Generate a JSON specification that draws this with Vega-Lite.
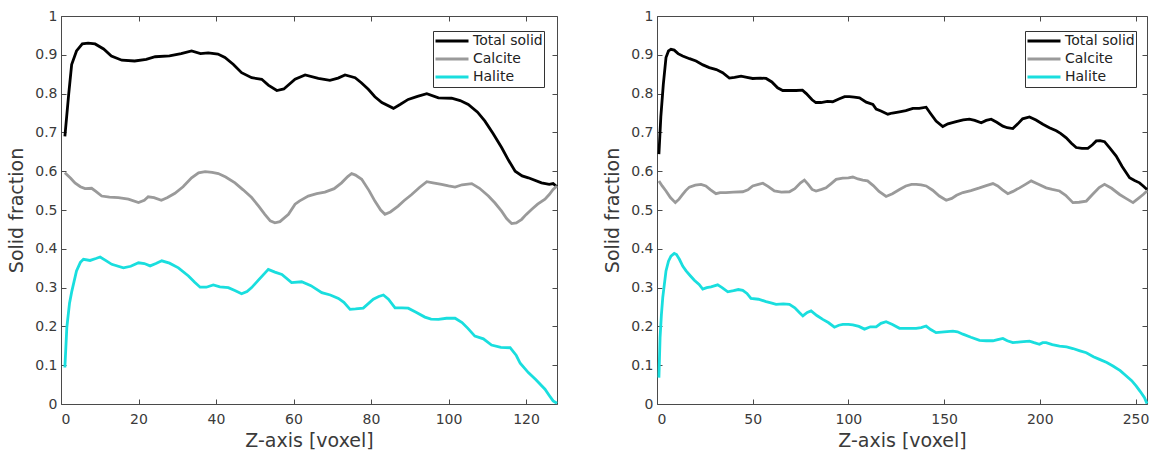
{
  "$schema": "https://vega.github.io/schema/vega-lite/v6.json",
  "padding": {"left": 7, "top": 9, "right": 5, "bottom": 0},
  "config": {
    "font": "DejaVu Sans",
    "view": {"stroke": null},
    "axis": {
      "grid": false,
      "domainColor": "#4a4a4a",
      "domainWidth": 1,
      "tickColor": "#4a4a4a",
      "tickSize": -5,
      "labelFont": "DejaVu Sans",
      "labelFontSize": 14,
      "labelColor": "#3a3a3a",
      "titleFont": "DejaVu Sans",
      "titleFontSize": 19,
      "titleFontWeight": "normal",
      "titleColor": "#3a3a3a"
    },
    "legend": {
      "orient": "none",
      "title": null,
      "symbolType": "stroke",
      "symbolSize": 1089,
      "symbolStrokeWidth": 2.8,
      "clipHeight": 18,
      "rowPadding": 0,
      "labelOffset": 3,
      "labelFont": "DejaVu Sans",
      "labelFontSize": 14,
      "labelColor": "#222222",
      "strokeColor": "#333333",
      "fillColor": "white",
      "padding": 1
    }
  },
  "datasets": {
    "left": [
      {"z":1,"v":0.69,"s":"Total solid"},{"z":2,"v":0.80,"s":"Total solid"},{"z":2.75,"v":0.875,"s":"Total solid"},{"z":4,"v":0.91,"s":"Total solid"},{"z":5.5,"v":0.928,"s":"Total solid"},{"z":7,"v":0.93,"s":"Total solid"},{"z":8.8,"v":0.928,"s":"Total solid"},{"z":11,"v":0.915,"s":"Total solid"},{"z":13,"v":0.897,"s":"Total solid"},{"z":15.7,"v":0.886,"s":"Total solid"},{"z":19,"v":0.884,"s":"Total solid"},{"z":22,"v":0.888,"s":"Total solid"},{"z":24.3,"v":0.895,"s":"Total solid"},{"z":28,"v":0.897,"s":"Total solid"},{"z":31,"v":0.903,"s":"Total solid"},{"z":33.7,"v":0.91,"s":"Total solid"},{"z":36,"v":0.903,"s":"Total solid"},{"z":38,"v":0.905,"s":"Total solid"},{"z":40.5,"v":0.902,"s":"Total solid"},{"z":42.3,"v":0.893,"s":"Total solid"},{"z":44.5,"v":0.875,"s":"Total solid"},{"z":46.6,"v":0.854,"s":"Total solid"},{"z":49.2,"v":0.841,"s":"Total solid"},{"z":51.8,"v":0.837,"s":"Total solid"},{"z":53.5,"v":0.822,"s":"Total solid"},{"z":55.7,"v":0.808,"s":"Total solid"},{"z":57.5,"v":0.812,"s":"Total solid"},{"z":60.4,"v":0.837,"s":"Total solid"},{"z":63,"v":0.848,"s":"Total solid"},{"z":66.4,"v":0.839,"s":"Total solid"},{"z":69.4,"v":0.834,"s":"Total solid"},{"z":71.5,"v":0.84,"s":"Total solid"},{"z":73.3,"v":0.848,"s":"Total solid"},{"z":75.9,"v":0.841,"s":"Total solid"},{"z":77.5,"v":0.828,"s":"Total solid"},{"z":79.3,"v":0.811,"s":"Total solid"},{"z":81,"v":0.792,"s":"Total solid"},{"z":82.8,"v":0.777,"s":"Total solid"},{"z":85.8,"v":0.762,"s":"Total solid"},{"z":87.5,"v":0.772,"s":"Total solid"},{"z":89.6,"v":0.785,"s":"Total solid"},{"z":92,"v":0.793,"s":"Total solid"},{"z":94.4,"v":0.8,"s":"Total solid"},{"z":97.4,"v":0.789,"s":"Total solid"},{"z":100.8,"v":0.788,"s":"Total solid"},{"z":103,"v":0.782,"s":"Total solid"},{"z":105.1,"v":0.772,"s":"Total solid"},{"z":107.5,"v":0.752,"s":"Total solid"},{"z":109.4,"v":0.729,"s":"Total solid"},{"z":111.5,"v":0.697,"s":"Total solid"},{"z":113.7,"v":0.661,"s":"Total solid"},{"z":115.5,"v":0.628,"s":"Total solid"},{"z":117.2,"v":0.6,"s":"Total solid"},{"z":119,"v":0.588,"s":"Total solid"},{"z":120.6,"v":0.583,"s":"Total solid"},{"z":124,"v":0.57,"s":"Total solid"},{"z":126,"v":0.566,"s":"Total solid"},{"z":127,"v":0.568,"s":"Total solid"},{"z":128,"v":0.56,"s":"Total solid"},
      {"z":1,"v":0.596,"s":"Calcite"},{"z":2.5,"v":0.582,"s":"Calcite"},{"z":3.6,"v":0.57,"s":"Calcite"},{"z":5,"v":0.56,"s":"Calcite"},{"z":6.2,"v":0.555,"s":"Calcite"},{"z":7.9,"v":0.556,"s":"Calcite"},{"z":9,"v":0.548,"s":"Calcite"},{"z":10.5,"v":0.536,"s":"Calcite"},{"z":12.5,"v":0.533,"s":"Calcite"},{"z":14.8,"v":0.532,"s":"Calcite"},{"z":17.4,"v":0.528,"s":"Calcite"},{"z":20,"v":0.519,"s":"Calcite"},{"z":21.5,"v":0.525,"s":"Calcite"},{"z":22.5,"v":0.534,"s":"Calcite"},{"z":24,"v":0.532,"s":"Calcite"},{"z":25.9,"v":0.525,"s":"Calcite"},{"z":27.5,"v":0.532,"s":"Calcite"},{"z":29.4,"v":0.543,"s":"Calcite"},{"z":31.5,"v":0.56,"s":"Calcite"},{"z":33.7,"v":0.583,"s":"Calcite"},{"z":35.5,"v":0.596,"s":"Calcite"},{"z":37.2,"v":0.599,"s":"Calcite"},{"z":39,"v":0.597,"s":"Calcite"},{"z":40.6,"v":0.594,"s":"Calcite"},{"z":42.5,"v":0.585,"s":"Calcite"},{"z":44.9,"v":0.57,"s":"Calcite"},{"z":47,"v":0.552,"s":"Calcite"},{"z":49.2,"v":0.532,"s":"Calcite"},{"z":51,"v":0.51,"s":"Calcite"},{"z":52.6,"v":0.489,"s":"Calcite"},{"z":54,"v":0.472,"s":"Calcite"},{"z":55.2,"v":0.467,"s":"Calcite"},{"z":56.5,"v":0.47,"s":"Calcite"},{"z":58.7,"v":0.489,"s":"Calcite"},{"z":60.4,"v":0.515,"s":"Calcite"},{"z":61.5,"v":0.523,"s":"Calcite"},{"z":63.8,"v":0.536,"s":"Calcite"},{"z":66,"v":0.542,"s":"Calcite"},{"z":68.1,"v":0.546,"s":"Calcite"},{"z":70.5,"v":0.555,"s":"Calcite"},{"z":72.4,"v":0.57,"s":"Calcite"},{"z":74,"v":0.586,"s":"Calcite"},{"z":75,"v":0.594,"s":"Calcite"},{"z":76,"v":0.59,"s":"Calcite"},{"z":77.6,"v":0.579,"s":"Calcite"},{"z":79.5,"v":0.55,"s":"Calcite"},{"z":81,"v":0.523,"s":"Calcite"},{"z":82.5,"v":0.5,"s":"Calcite"},{"z":83.6,"v":0.489,"s":"Calcite"},{"z":85,"v":0.495,"s":"Calcite"},{"z":87,"v":0.51,"s":"Calcite"},{"z":88.5,"v":0.524,"s":"Calcite"},{"z":90.5,"v":0.54,"s":"Calcite"},{"z":92.5,"v":0.558,"s":"Calcite"},{"z":94.4,"v":0.573,"s":"Calcite"},{"z":96,"v":0.57,"s":"Calcite"},{"z":98.2,"v":0.566,"s":"Calcite"},{"z":100,"v":0.562,"s":"Calcite"},{"z":101.7,"v":0.559,"s":"Calcite"},{"z":103.5,"v":0.565,"s":"Calcite"},{"z":106,"v":0.568,"s":"Calcite"},{"z":108,"v":0.556,"s":"Calcite"},{"z":110.3,"v":0.536,"s":"Calcite"},{"z":112,"v":0.518,"s":"Calcite"},{"z":113.7,"v":0.497,"s":"Calcite"},{"z":115,"v":0.478,"s":"Calcite"},{"z":116.3,"v":0.465,"s":"Calcite"},{"z":117.5,"v":0.467,"s":"Calcite"},{"z":118.9,"v":0.476,"s":"Calcite"},{"z":120,"v":0.488,"s":"Calcite"},{"z":121.5,"v":0.502,"s":"Calcite"},{"z":123,"v":0.515,"s":"Calcite"},{"z":124.9,"v":0.528,"s":"Calcite"},{"z":126,"v":0.54,"s":"Calcite"},{"z":127,"v":0.553,"s":"Calcite"},{"z":128,"v":0.562,"s":"Calcite"},
      {"z":1,"v":0.094,"s":"Halite"},{"z":1.5,"v":0.197,"s":"Halite"},{"z":2.2,"v":0.26,"s":"Halite"},{"z":2.8,"v":0.291,"s":"Halite"},{"z":4,"v":0.343,"s":"Halite"},{"z":5,"v":0.365,"s":"Halite"},{"z":5.8,"v":0.373,"s":"Halite"},{"z":7.5,"v":0.37,"s":"Halite"},{"z":9,"v":0.375,"s":"Halite"},{"z":10.1,"v":0.379,"s":"Halite"},{"z":11.5,"v":0.37,"s":"Halite"},{"z":13.1,"v":0.36,"s":"Halite"},{"z":16.1,"v":0.351,"s":"Halite"},{"z":18,"v":0.355,"s":"Halite"},{"z":20,"v":0.364,"s":"Halite"},{"z":21.5,"v":0.362,"s":"Halite"},{"z":23,"v":0.356,"s":"Halite"},{"z":24.5,"v":0.362,"s":"Halite"},{"z":26,"v":0.369,"s":"Halite"},{"z":28,"v":0.363,"s":"Halite"},{"z":30.3,"v":0.351,"s":"Halite"},{"z":32.9,"v":0.33,"s":"Halite"},{"z":34.5,"v":0.314,"s":"Halite"},{"z":35.9,"v":0.301,"s":"Halite"},{"z":37.5,"v":0.301,"s":"Halite"},{"z":39.3,"v":0.307,"s":"Halite"},{"z":41,"v":0.302,"s":"Halite"},{"z":43.2,"v":0.3,"s":"Halite"},{"z":45,"v":0.292,"s":"Halite"},{"z":46.6,"v":0.284,"s":"Halite"},{"z":48,"v":0.29,"s":"Halite"},{"z":49.2,"v":0.3,"s":"Halite"},{"z":51,"v":0.32,"s":"Halite"},{"z":53.5,"v":0.347,"s":"Halite"},{"z":55.2,"v":0.34,"s":"Halite"},{"z":57,"v":0.334,"s":"Halite"},{"z":59.5,"v":0.313,"s":"Halite"},{"z":62.1,"v":0.315,"s":"Halite"},{"z":64.5,"v":0.305,"s":"Halite"},{"z":67.3,"v":0.287,"s":"Halite"},{"z":69.5,"v":0.281,"s":"Halite"},{"z":71.6,"v":0.272,"s":"Halite"},{"z":73,"v":0.262,"s":"Halite"},{"z":74.6,"v":0.244,"s":"Halite"},{"z":76,"v":0.245,"s":"Halite"},{"z":78,"v":0.247,"s":"Halite"},{"z":80.6,"v":0.27,"s":"Halite"},{"z":82,"v":0.277,"s":"Halite"},{"z":83.2,"v":0.281,"s":"Halite"},{"z":84.5,"v":0.27,"s":"Halite"},{"z":86.2,"v":0.248,"s":"Halite"},{"z":88,"v":0.248,"s":"Halite"},{"z":89.6,"v":0.247,"s":"Halite"},{"z":91.5,"v":0.237,"s":"Halite"},{"z":93.9,"v":0.224,"s":"Halite"},{"z":95.5,"v":0.219,"s":"Halite"},{"z":97.4,"v":0.218,"s":"Halite"},{"z":99.5,"v":0.221,"s":"Halite"},{"z":101.7,"v":0.221,"s":"Halite"},{"z":103.5,"v":0.21,"s":"Halite"},{"z":105,"v":0.195,"s":"Halite"},{"z":106.8,"v":0.175,"s":"Halite"},{"z":109,"v":0.168,"s":"Halite"},{"z":111.1,"v":0.152,"s":"Halite"},{"z":113.5,"v":0.146,"s":"Halite"},{"z":115.9,"v":0.145,"s":"Halite"},{"z":117.5,"v":0.125,"s":"Halite"},{"z":118.5,"v":0.105,"s":"Halite"},{"z":120.6,"v":0.081,"s":"Halite"},{"z":122.5,"v":0.063,"s":"Halite"},{"z":124.9,"v":0.038,"s":"Halite"},{"z":126,"v":0.022,"s":"Halite"},{"z":127,"v":0.008,"s":"Halite"},{"z":128,"v":0.002,"s":"Halite"}
    ],
    "right": [
      {"z":1,"v":0.644,"s":"Total solid"},{"z":2,"v":0.74,"s":"Total solid"},{"z":3.3,"v":0.824,"s":"Total solid"},{"z":4.7,"v":0.893,"s":"Total solid"},{"z":6,"v":0.91,"s":"Total solid"},{"z":7.3,"v":0.914,"s":"Total solid"},{"z":9,"v":0.912,"s":"Total solid"},{"z":11,"v":0.903,"s":"Total solid"},{"z":13.4,"v":0.897,"s":"Total solid"},{"z":17,"v":0.89,"s":"Total solid"},{"z":20.4,"v":0.884,"s":"Total solid"},{"z":24,"v":0.874,"s":"Total solid"},{"z":27.3,"v":0.867,"s":"Total solid"},{"z":31,"v":0.862,"s":"Total solid"},{"z":34.3,"v":0.854,"s":"Total solid"},{"z":37.8,"v":0.84,"s":"Total solid"},{"z":40.5,"v":0.842,"s":"Total solid"},{"z":43.9,"v":0.845,"s":"Total solid"},{"z":47,"v":0.842,"s":"Total solid"},{"z":50,"v":0.839,"s":"Total solid"},{"z":54,"v":0.84,"s":"Total solid"},{"z":57,"v":0.839,"s":"Total solid"},{"z":60,"v":0.83,"s":"Total solid"},{"z":63,"v":0.815,"s":"Total solid"},{"z":65.7,"v":0.808,"s":"Total solid"},{"z":69,"v":0.808,"s":"Total solid"},{"z":72.7,"v":0.808,"s":"Total solid"},{"z":76,"v":0.809,"s":"Total solid"},{"z":78,"v":0.8,"s":"Total solid"},{"z":81,"v":0.784,"s":"Total solid"},{"z":83,"v":0.777,"s":"Total solid"},{"z":85.7,"v":0.777,"s":"Total solid"},{"z":89,"v":0.78,"s":"Total solid"},{"z":91.8,"v":0.779,"s":"Total solid"},{"z":95,"v":0.786,"s":"Total solid"},{"z":98,"v":0.792,"s":"Total solid"},{"z":100.5,"v":0.792,"s":"Total solid"},{"z":103,"v":0.791,"s":"Total solid"},{"z":105.8,"v":0.789,"s":"Total solid"},{"z":109.3,"v":0.778,"s":"Total solid"},{"z":112.8,"v":0.772,"s":"Total solid"},{"z":114.5,"v":0.76,"s":"Total solid"},{"z":117,"v":0.755,"s":"Total solid"},{"z":120.6,"v":0.747,"s":"Total solid"},{"z":123,"v":0.75,"s":"Total solid"},{"z":126.7,"v":0.753,"s":"Total solid"},{"z":130,"v":0.756,"s":"Total solid"},{"z":133.7,"v":0.762,"s":"Total solid"},{"z":137,"v":0.762,"s":"Total solid"},{"z":140.6,"v":0.765,"s":"Total solid"},{"z":143,"v":0.748,"s":"Total solid"},{"z":145.8,"v":0.729,"s":"Total solid"},{"z":149.3,"v":0.715,"s":"Total solid"},{"z":152,"v":0.722,"s":"Total solid"},{"z":156.3,"v":0.728,"s":"Total solid"},{"z":160,"v":0.732,"s":"Total solid"},{"z":163.2,"v":0.734,"s":"Total solid"},{"z":166,"v":0.731,"s":"Total solid"},{"z":169.4,"v":0.725,"s":"Total solid"},{"z":172,"v":0.731,"s":"Total solid"},{"z":174.6,"v":0.734,"s":"Total solid"},{"z":177.5,"v":0.726,"s":"Total solid"},{"z":180.7,"v":0.716,"s":"Total solid"},{"z":183,"v":0.712,"s":"Total solid"},{"z":185.9,"v":0.71,"s":"Total solid"},{"z":188.5,"v":0.722,"s":"Total solid"},{"z":191,"v":0.735,"s":"Total solid"},{"z":194.6,"v":0.74,"s":"Total solid"},{"z":198,"v":0.732,"s":"Total solid"},{"z":201.6,"v":0.721,"s":"Total solid"},{"z":205,"v":0.712,"s":"Total solid"},{"z":208.6,"v":0.704,"s":"Total solid"},{"z":211,"v":0.697,"s":"Total solid"},{"z":213.8,"v":0.686,"s":"Total solid"},{"z":216.5,"v":0.672,"s":"Total solid"},{"z":219,"v":0.661,"s":"Total solid"},{"z":222,"v":0.659,"s":"Total solid"},{"z":225.1,"v":0.659,"s":"Total solid"},{"z":227.5,"v":0.668,"s":"Total solid"},{"z":229.5,"v":0.678,"s":"Total solid"},{"z":231.5,"v":0.679,"s":"Total solid"},{"z":233.8,"v":0.676,"s":"Total solid"},{"z":236.5,"v":0.66,"s":"Total solid"},{"z":239.9,"v":0.639,"s":"Total solid"},{"z":243,"v":0.612,"s":"Total solid"},{"z":246.9,"v":0.583,"s":"Total solid"},{"z":249.5,"v":0.576,"s":"Total solid"},{"z":252.1,"v":0.57,"s":"Total solid"},{"z":254,"v":0.562,"s":"Total solid"},{"z":256,"v":0.553,"s":"Total solid"},
      {"z":1,"v":0.575,"s":"Calcite"},{"z":2.7,"v":0.562,"s":"Calcite"},{"z":4.7,"v":0.549,"s":"Calcite"},{"z":7,"v":0.532,"s":"Calcite"},{"z":9.6,"v":0.519,"s":"Calcite"},{"z":11.5,"v":0.528,"s":"Calcite"},{"z":13.4,"v":0.54,"s":"Calcite"},{"z":15,"v":0.55,"s":"Calcite"},{"z":16.9,"v":0.559,"s":"Calcite"},{"z":20,"v":0.564,"s":"Calcite"},{"z":23,"v":0.566,"s":"Calcite"},{"z":25.5,"v":0.562,"s":"Calcite"},{"z":28,"v":0.552,"s":"Calcite"},{"z":30.8,"v":0.542,"s":"Calcite"},{"z":33,"v":0.545,"s":"Calcite"},{"z":36,"v":0.545,"s":"Calcite"},{"z":40,"v":0.546,"s":"Calcite"},{"z":44.8,"v":0.547,"s":"Calcite"},{"z":47.5,"v":0.552,"s":"Calcite"},{"z":50,"v":0.562,"s":"Calcite"},{"z":53,"v":0.566,"s":"Calcite"},{"z":55.3,"v":0.569,"s":"Calcite"},{"z":58,"v":0.561,"s":"Calcite"},{"z":61.3,"v":0.549,"s":"Calcite"},{"z":65,"v":0.546,"s":"Calcite"},{"z":69.2,"v":0.547,"s":"Calcite"},{"z":72,"v":0.555,"s":"Calcite"},{"z":75,"v":0.57,"s":"Calcite"},{"z":77,"v":0.577,"s":"Calcite"},{"z":79,"v":0.566,"s":"Calcite"},{"z":81,"v":0.553,"s":"Calcite"},{"z":83.1,"v":0.549,"s":"Calcite"},{"z":86,"v":0.553,"s":"Calcite"},{"z":88.3,"v":0.557,"s":"Calcite"},{"z":91,"v":0.568,"s":"Calcite"},{"z":93.6,"v":0.579,"s":"Calcite"},{"z":97,"v":0.582,"s":"Calcite"},{"z":100,"v":0.583,"s":"Calcite"},{"z":102.3,"v":0.585,"s":"Calcite"},{"z":105,"v":0.58,"s":"Calcite"},{"z":107.5,"v":0.577,"s":"Calcite"},{"z":110,"v":0.575,"s":"Calcite"},{"z":113,"v":0.563,"s":"Calcite"},{"z":116,"v":0.548,"s":"Calcite"},{"z":119.7,"v":0.535,"s":"Calcite"},{"z":123,"v":0.542,"s":"Calcite"},{"z":126.7,"v":0.553,"s":"Calcite"},{"z":130,"v":0.562,"s":"Calcite"},{"z":133,"v":0.566,"s":"Calcite"},{"z":135.4,"v":0.566,"s":"Calcite"},{"z":138,"v":0.565,"s":"Calcite"},{"z":140.6,"v":0.562,"s":"Calcite"},{"z":144,"v":0.551,"s":"Calcite"},{"z":147.5,"v":0.536,"s":"Calcite"},{"z":151.1,"v":0.525,"s":"Calcite"},{"z":154,"v":0.53,"s":"Calcite"},{"z":156.5,"v":0.538,"s":"Calcite"},{"z":159.8,"v":0.545,"s":"Calcite"},{"z":164,"v":0.55,"s":"Calcite"},{"z":168.5,"v":0.557,"s":"Calcite"},{"z":172,"v":0.563,"s":"Calcite"},{"z":175.5,"v":0.568,"s":"Calcite"},{"z":178,"v":0.562,"s":"Calcite"},{"z":180.5,"v":0.552,"s":"Calcite"},{"z":183.3,"v":0.542,"s":"Calcite"},{"z":186,"v":0.548,"s":"Calcite"},{"z":189.4,"v":0.557,"s":"Calcite"},{"z":192.5,"v":0.566,"s":"Calcite"},{"z":195.5,"v":0.575,"s":"Calcite"},{"z":199,"v":0.567,"s":"Calcite"},{"z":203.3,"v":0.557,"s":"Calcite"},{"z":206.5,"v":0.553,"s":"Calcite"},{"z":210.3,"v":0.549,"s":"Calcite"},{"z":213.5,"v":0.538,"s":"Calcite"},{"z":217.3,"v":0.519,"s":"Calcite"},{"z":220.5,"v":0.52,"s":"Calcite"},{"z":224.3,"v":0.523,"s":"Calcite"},{"z":227.5,"v":0.54,"s":"Calcite"},{"z":231,"v":0.558,"s":"Calcite"},{"z":233.8,"v":0.566,"s":"Calcite"},{"z":237.5,"v":0.556,"s":"Calcite"},{"z":241.7,"v":0.54,"s":"Calcite"},{"z":245,"v":0.53,"s":"Calcite"},{"z":248.7,"v":0.519,"s":"Calcite"},{"z":251.5,"v":0.53,"s":"Calcite"},{"z":254,"v":0.54,"s":"Calcite"},{"z":256,"v":0.549,"s":"Calcite"},
      {"z":1,"v":0.068,"s":"Halite"},{"z":1.6,"v":0.171,"s":"Halite"},{"z":2.3,"v":0.23,"s":"Halite"},{"z":3,"v":0.274,"s":"Halite"},{"z":4.7,"v":0.343,"s":"Halite"},{"z":6,"v":0.368,"s":"Halite"},{"z":7.3,"v":0.381,"s":"Halite"},{"z":9,"v":0.388,"s":"Halite"},{"z":10.2,"v":0.385,"s":"Halite"},{"z":11.7,"v":0.373,"s":"Halite"},{"z":13.5,"v":0.355,"s":"Halite"},{"z":15.2,"v":0.343,"s":"Halite"},{"z":17.5,"v":0.33,"s":"Halite"},{"z":19.5,"v":0.319,"s":"Halite"},{"z":22,"v":0.308,"s":"Halite"},{"z":23.9,"v":0.296,"s":"Halite"},{"z":26,"v":0.3,"s":"Halite"},{"z":28.2,"v":0.302,"s":"Halite"},{"z":31.7,"v":0.307,"s":"Halite"},{"z":34,"v":0.3,"s":"Halite"},{"z":37,"v":0.289,"s":"Halite"},{"z":40,"v":0.292,"s":"Halite"},{"z":42.5,"v":0.295,"s":"Halite"},{"z":44.8,"v":0.293,"s":"Halite"},{"z":47,"v":0.285,"s":"Halite"},{"z":49.1,"v":0.272,"s":"Halite"},{"z":53,"v":0.27,"s":"Halite"},{"z":57,"v":0.264,"s":"Halite"},{"z":60,"v":0.26,"s":"Halite"},{"z":62.2,"v":0.257,"s":"Halite"},{"z":66,"v":0.258,"s":"Halite"},{"z":69.2,"v":0.257,"s":"Halite"},{"z":72,"v":0.248,"s":"Halite"},{"z":74.5,"v":0.235,"s":"Halite"},{"z":76.2,"v":0.227,"s":"Halite"},{"z":78.5,"v":0.236,"s":"Halite"},{"z":80.5,"v":0.24,"s":"Halite"},{"z":83.5,"v":0.228,"s":"Halite"},{"z":86.6,"v":0.218,"s":"Halite"},{"z":89.5,"v":0.21,"s":"Halite"},{"z":92.7,"v":0.198,"s":"Halite"},{"z":95,"v":0.203,"s":"Halite"},{"z":97.1,"v":0.205,"s":"Halite"},{"z":100,"v":0.205,"s":"Halite"},{"z":102.3,"v":0.204,"s":"Halite"},{"z":105.5,"v":0.2,"s":"Halite"},{"z":108.4,"v":0.193,"s":"Halite"},{"z":111.5,"v":0.199,"s":"Halite"},{"z":114.5,"v":0.199,"s":"Halite"},{"z":117,"v":0.208,"s":"Halite"},{"z":119.7,"v":0.212,"s":"Halite"},{"z":123,"v":0.205,"s":"Halite"},{"z":126.7,"v":0.195,"s":"Halite"},{"z":131,"v":0.195,"s":"Halite"},{"z":135.4,"v":0.195,"s":"Halite"},{"z":138,"v":0.197,"s":"Halite"},{"z":140.6,"v":0.201,"s":"Halite"},{"z":143,"v":0.192,"s":"Halite"},{"z":145.8,"v":0.184,"s":"Halite"},{"z":150,"v":0.186,"s":"Halite"},{"z":154.6,"v":0.188,"s":"Halite"},{"z":157,"v":0.186,"s":"Halite"},{"z":159.8,"v":0.18,"s":"Halite"},{"z":164,"v":0.172,"s":"Halite"},{"z":168.5,"v":0.164,"s":"Halite"},{"z":172,"v":0.163,"s":"Halite"},{"z":175.5,"v":0.163,"s":"Halite"},{"z":178,"v":0.166,"s":"Halite"},{"z":180.7,"v":0.169,"s":"Halite"},{"z":183,"v":0.163,"s":"Halite"},{"z":185.9,"v":0.158,"s":"Halite"},{"z":190,"v":0.16,"s":"Halite"},{"z":194.6,"v":0.162,"s":"Halite"},{"z":197,"v":0.158,"s":"Halite"},{"z":199.8,"v":0.154,"s":"Halite"},{"z":201.5,"v":0.158,"s":"Halite"},{"z":203.3,"v":0.158,"s":"Halite"},{"z":206.5,"v":0.153,"s":"Halite"},{"z":210.3,"v":0.149,"s":"Halite"},{"z":214,"v":0.147,"s":"Halite"},{"z":217.3,"v":0.143,"s":"Halite"},{"z":221,"v":0.137,"s":"Halite"},{"z":224.3,"v":0.132,"s":"Halite"},{"z":228,"v":0.122,"s":"Halite"},{"z":231.2,"v":0.115,"s":"Halite"},{"z":235,"v":0.107,"s":"Halite"},{"z":238.2,"v":0.098,"s":"Halite"},{"z":242,"v":0.086,"s":"Halite"},{"z":245.2,"v":0.072,"s":"Halite"},{"z":248,"v":0.06,"s":"Halite"},{"z":250.4,"v":0.046,"s":"Halite"},{"z":252.5,"v":0.032,"s":"Halite"},{"z":254.7,"v":0.016,"s":"Halite"},{"z":256,"v":0.001,"s":"Halite"}
    ]
  },
  "spacing": 40,
  "resolve": {"legend": {"color": "independent"}},
  "hconcat": [
    {
      "width": 496,
      "height": 388,
      "data": {"name": "left"},
      "resolve": {"axis": {"x": "independent", "y": "independent"}},
      "layer": [
        {
          "mark": {"type": "line", "strokeWidth": 2.8},
          "encoding": {
            "x": {"field": "z", "type": "quantitative", "scale": {"domain": [0, 128], "nice": false}, "axis": {"orient": "bottom", "values": [0, 20, 40, 60, 80, 100, 120], "title": "Z-axis [voxel]", "labelPadding": 13, "titlePadding": 5}},
            "y": {"field": "v", "type": "quantitative", "scale": {"domain": [0, 1], "nice": false}, "axis": {"orient": "left", "values": [0, 0.1, 0.2, 0.3, 0.4, 0.5, 0.6, 0.7, 0.8, 0.9, 1], "format": "~g", "title": "Solid fraction", "labelPadding": 9, "titlePadding": 8}},
            "color": {"field": "s", "type": "nominal", "scale": {"domain": ["Total solid", "Calcite", "Halite"], "range": ["#000000", "#9a9a9a", "#19dede"]}, "legend": {"legendX": 372, "legendY": 15}}
          }
        },
        {
          "mark": {"type": "line", "strokeOpacity": 0},
          "encoding": {
            "x": {"field": "z", "type": "quantitative", "axis": {"orient": "top", "values": [0, 20, 40, 60, 80, 100, 120], "labels": false, "title": null}},
            "y": {"field": "v", "type": "quantitative", "axis": {"orient": "right", "values": [0, 0.1, 0.2, 0.3, 0.4, 0.5, 0.6, 0.7, 0.8, 0.9, 1], "labels": false, "title": null}}
          }
        }
      ]
    },
    {
      "width": 490,
      "height": 388,
      "data": {"name": "right"},
      "resolve": {"axis": {"x": "independent", "y": "independent"}},
      "layer": [
        {
          "mark": {"type": "line", "strokeWidth": 2.8},
          "encoding": {
            "x": {"field": "z", "type": "quantitative", "scale": {"domain": [0, 256], "nice": false}, "axis": {"orient": "bottom", "values": [0, 50, 100, 150, 200, 250], "title": "Z-axis [voxel]", "labelPadding": 13, "titlePadding": 5}},
            "y": {"field": "v", "type": "quantitative", "scale": {"domain": [0, 1], "nice": false}, "axis": {"orient": "left", "values": [0, 0.1, 0.2, 0.3, 0.4, 0.5, 0.6, 0.7, 0.8, 0.9, 1], "format": "~g", "title": "Solid fraction", "labelPadding": 9, "titlePadding": 8}},
            "color": {"field": "s", "type": "nominal", "scale": {"domain": ["Total solid", "Calcite", "Halite"], "range": ["#000000", "#9a9a9a", "#19dede"]}, "legend": {"legendX": 368, "legendY": 15}}
          }
        },
        {
          "mark": {"type": "line", "strokeOpacity": 0},
          "encoding": {
            "x": {"field": "z", "type": "quantitative", "axis": {"orient": "top", "values": [0, 50, 100, 150, 200, 250], "labels": false, "title": null}},
            "y": {"field": "v", "type": "quantitative", "axis": {"orient": "right", "values": [0, 0.1, 0.2, 0.3, 0.4, 0.5, 0.6, 0.7, 0.8, 0.9, 1], "labels": false, "title": null}}
          }
        }
      ]
    }
  ]
}
